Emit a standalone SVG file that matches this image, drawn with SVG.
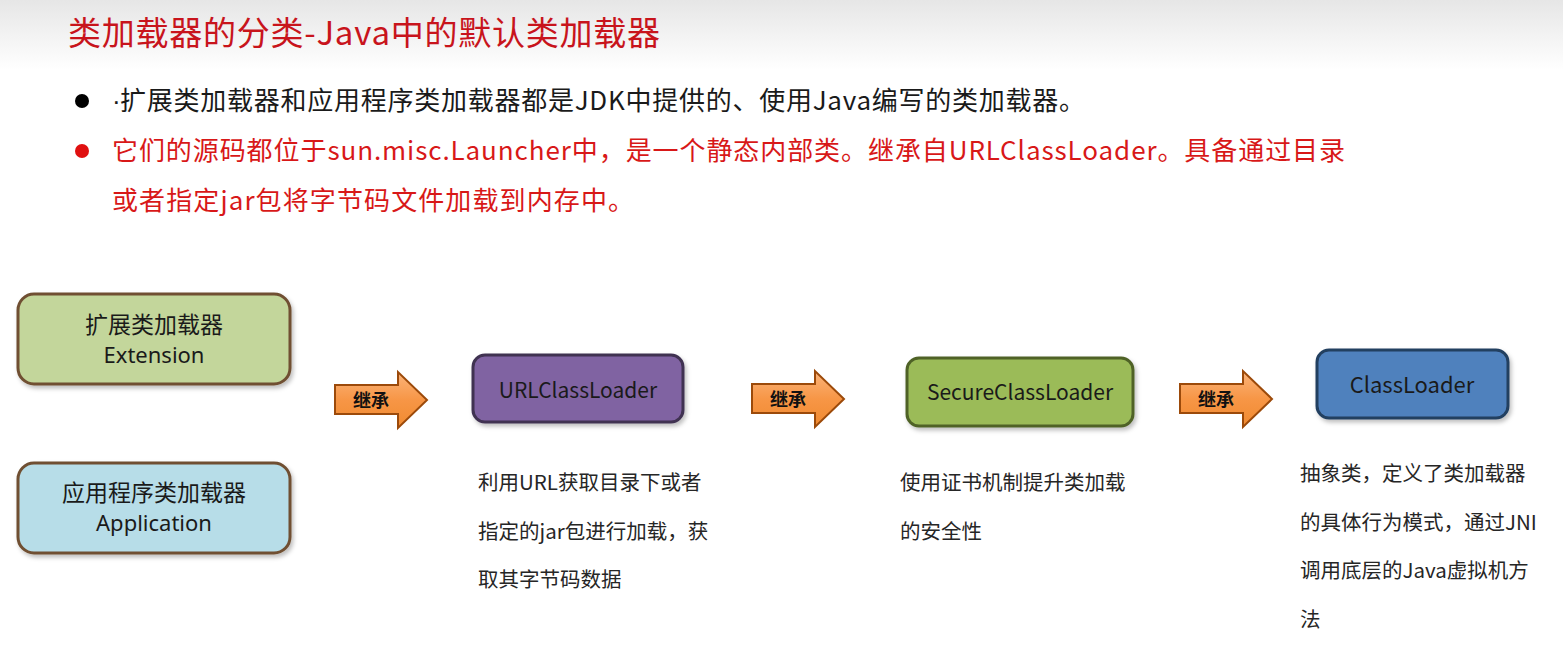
<svg xmlns="http://www.w3.org/2000/svg" width="1563" height="669" viewBox="0 0 1563 669">
<defs>
<linearGradient id="hdr" x1="0" y1="0" x2="0" y2="1">
<stop offset="0" stop-color="#e6e6e6"/>
<stop offset="1" stop-color="#ffffff"/>
</linearGradient>
<linearGradient id="arrowFill" x1="0" y1="0" x2="0" y2="1">
<stop offset="0" stop-color="#fbb47a"/>
<stop offset="0.5" stop-color="#f79646"/>
<stop offset="1" stop-color="#f08a30"/>
</linearGradient>
<filter id="sh" x="-10%" y="-10%" width="125%" height="130%">
<feDropShadow dx="2" dy="3" stdDeviation="2" flood-color="#000" flood-opacity="0.25"/>
</filter>
<path id="arrowShape" d="M0,13 H63 V0 L92,28 L63,56 V42 H0 Z"/>
</defs>
<style>
.cjk{font-family:"Noto Sans CJK SC","Noto Sans",sans-serif;}
.lat{font-family:"Liberation Sans",sans-serif;}
.nlat{font-family:"Noto Sans",sans-serif;}
.title{font-size:33px;fill:#c8141c;}
.b1{font-size:26px;fill:#1a1a1a;}
.b2{font-size:26px;fill:#d81818;}
.node{stroke-width:3;filter:url(#sh);}
.ntxt{font-size:22px;fill:#1a1a1a;text-anchor:middle;}
.desc{font-size:20.5px;fill:#262626;}
.arr{fill:url(#arrowFill);stroke:#9c4a0a;stroke-width:2;}
.atxt{font-size:18px;font-weight:bold;fill:#111;text-anchor:middle;}
</style>
<rect x="0" y="0" width="1563" height="669" fill="#ffffff"/>
<rect x="0" y="0" width="1563" height="70" fill="url(#hdr)"/>

<text class="cjk title" x="68" y="45" textLength="592">类加载器的分类-Java中的默认类加载器</text>

<circle cx="82" cy="101" r="7" fill="#000"/>
<text class="lat b1" x="112" y="110">·</text>
<text class="cjk b1" x="120" y="110" textLength="965">扩展类加载器和应用程序类加载器都是JDK中提供的、使用Java编写的类加载器。</text>
<circle cx="82" cy="151" r="7" fill="#e01010"/>
<text class="cjk b2" x="112" y="160" textLength="1233">它们的源码都位于sun.misc.Launcher中，是一个静态内部类。继承自URLClassLoader。具备通过目录</text>
<text class="cjk b2" x="112" y="210" textLength="522">或者指定jar包将字节码文件加载到内存中。</text>

<g id="ext">
<rect class="node" x="18" y="294" width="272" height="90" rx="16" fill="#c3d69b" stroke="#6f4f32"/>
<text class="cjk ntxt" x="154" y="333" style="font-size:23px">扩展类加载器</text>
<text class="nlat ntxt" x="154" y="363">Extension</text>
</g>
<g id="app">
<rect class="node" x="18" y="463" width="272" height="90" rx="16" fill="#b7dde8" stroke="#6f4f32"/>
<text class="cjk ntxt" x="154" y="501" style="font-size:23px">应用程序类加载器</text>
<text class="nlat ntxt" x="154" y="531">Application</text>
</g>
<g id="url">
<rect class="node" x="473" y="355" width="210" height="67" rx="12" fill="#8064a2" stroke="#3f3151"/>
<text class="cjk ntxt" x="578" y="398" style="font-size:21px">URLClassLoader</text>
<text class="cjk desc" x="478" y="490">利用URL获取目录下或者</text>
<text class="cjk desc" x="478" y="539">指定的jar包进行加载，获</text>
<text class="cjk desc" x="478" y="587">取其字节码数据</text>
</g>
<g id="secure">
<rect class="node" x="907" y="358" width="226" height="68" rx="12" fill="#9bbb59" stroke="#4f6228"/>
<text class="cjk ntxt" x="1020" y="400" style="font-size:21px">SecureClassLoader</text>
<text class="cjk desc" x="900" y="490">使用证书机制提升类加载</text>
<text class="cjk desc" x="900" y="539">的安全性</text>
</g>
<g id="cl">
<rect class="node" x="1317" y="350" width="191" height="68" rx="12" fill="#4f81bd" stroke="#243f60"/>
<text class="cjk ntxt" x="1412" y="393" style="font-size:22px">ClassLoader</text>
<text class="cjk desc" x="1300" y="481">抽象类，定义了类加载器</text>
<text class="cjk desc" x="1300" y="530">的具体行为模式，通过JNI</text>
<text class="cjk desc" x="1300" y="578">调用底层的Java虚拟机方</text>
<text class="cjk desc" x="1300" y="627">法</text>
</g>

<g id="connectors">
<g transform="translate(335,372)">
<use href="#arrowShape" class="arr"/>
<text class="cjk atxt" x="36" y="35">继承</text>
</g>
<g transform="translate(752,371)">
<use href="#arrowShape" class="arr"/>
<text class="cjk atxt" x="36" y="35">继承</text>
</g>
<g transform="translate(1180,371)">
<use href="#arrowShape" class="arr"/>
<text class="cjk atxt" x="36" y="35">继承</text>
</g>
</g>
</svg>
